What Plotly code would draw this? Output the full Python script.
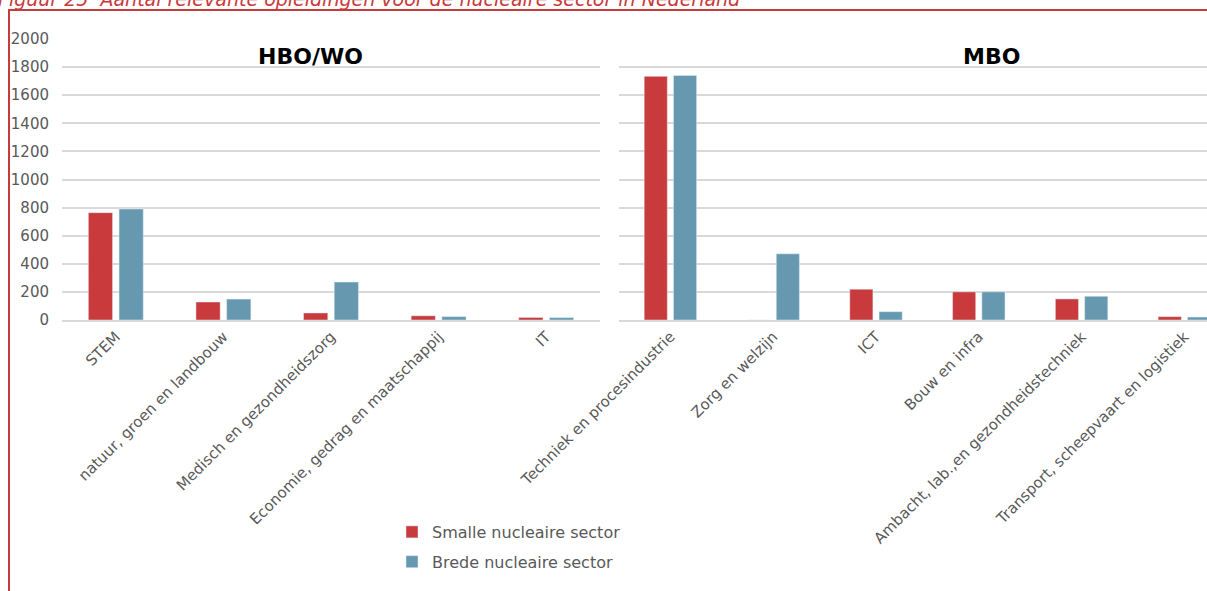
import plotly.graph_objects as go
from plotly.subplots import make_subplots

# Data
hbo_categories = ["STEM", "natuur, groen en landbouw", "Medisch en gezondheidszorg",
                  "Economie, gedrag en maatschappij", "IT"]
hbo_smalle = [764, 128, 50, 30, 18]
hbo_brede = [790, 149, 270, 24, 17]

mbo_categories = ["Techniek en procesindustrie", "Zorg en welzijn", "ICT", "Bouw en infra",
                  "Ambacht, lab.,en gezondheidstechniek", "Transport, scheepvaart en logistiek"]
mbo_smalle = [1734, 0, 219, 200, 150, 24]
mbo_brede = [1741, 471, 59, 200, 169, 21]

series_names = ["Smalle nucleaire sector", "Brede nucleaire sector"]
y_ticks = [0, 200, 400, 600, 800, 1000, 1200, 1400, 1600, 1800, 2000]

RED = "#c83a3b"
BLUE = "#6699b0"
GRID = "#d9d9d9"
TXT = "#595959"
FONT = "DejaVu Sans"

W, H = 1207, 591
ML, MR, MT, MB = 62, 0, 39, 271
PW = W - ML - MR
PH = H - MT - MB

def px_x(x):
    return (x - ML) / PW

def px_y(y):
    return (H - MB - y) / PH

fig = make_subplots(rows=1, cols=2, shared_yaxes=True)

fig.add_trace(go.Bar(x=hbo_categories, y=hbo_smalle, name=series_names[0], marker_color=RED,
                     legendgroup="a", showlegend=True), row=1, col=1)
fig.add_trace(go.Bar(x=hbo_categories, y=hbo_brede, name=series_names[1], marker_color=BLUE,
                     legendgroup="b", showlegend=True), row=1, col=1)
fig.add_trace(go.Bar(x=mbo_categories, y=mbo_smalle, name=series_names[0], marker_color=RED,
                     legendgroup="a", showlegend=False), row=1, col=2)
fig.add_trace(go.Bar(x=mbo_categories, y=mbo_brede, name=series_names[1], marker_color=BLUE,
                     legendgroup="b", showlegend=False), row=1, col=2)

fig.update_layout(
    width=W, height=H,
    margin=dict(l=ML, r=MR, t=MT, b=MB, autoexpand=False),
    paper_bgcolor="white", plot_bgcolor="white",
    font=dict(family=FONT, color=TXT, size=14),
    barmode="group", bargap=0.43, bargroupgap=0.21,
    legend=dict(x=px_x(392), y=px_y(515), xanchor="left", yanchor="top",
                orientation="v", traceorder="grouped", tracegroupgap=6,
                font=dict(family=FONT, size=16, color=TXT), bgcolor="rgba(0,0,0,0)"),
    xaxis=dict(domain=[0, px_x(600)], tickangle=-45, showline=True, linecolor=GRID,
               linewidth=2, ticks="", showgrid=False, automargin=False,
               tickfont=dict(family=FONT, size=15, color=TXT)),
    xaxis2=dict(domain=[px_x(619), 1], tickangle=-45, showline=True, linecolor=GRID,
                linewidth=2, ticks="", showgrid=False, range=[-0.5, 5.22], automargin=False,
                tickfont=dict(family=FONT, size=15, color=TXT)),
    yaxis=dict(range=[0, 2000], tickvals=y_ticks, showgrid=True, gridcolor=GRID,
               gridwidth=1.5, zeroline=False, ticks="", ticklabelstandoff=12, automargin=False,
               tickfont=dict(family=FONT, size=15, color=TXT)),
    yaxis2=dict(range=[0, 2000], tickvals=y_ticks, showgrid=True, gridcolor=GRID,
                gridwidth=1.5, zeroline=False, showticklabels=False, ticks="", automargin=False),
)

# Panel titles
fig.add_annotation(text="<b>HBO/WO</b>", xref="paper", yref="paper", x=px_x(310), y=px_y(56),
                   xanchor="center", yanchor="middle",
                   showarrow=False, font=dict(family=FONT, size=22, color="black"))
fig.add_annotation(text="<b>MBO</b>", xref="paper", yref="paper", x=px_x(991), y=px_y(56),
                   xanchor="center", yanchor="middle",
                   showarrow=False, font=dict(family=FONT, size=22, color="black"))

# Figure caption (partially cut off at top, as in the source)
fig.add_annotation(text="<i>Figuur 25  Aantal relevante opleidingen voor de nucleaire sector in Nederland</i>",
                   xref="paper", yref="paper", x=px_x(-4), y=px_y(12), xanchor="left",
                   yanchor="bottom", showarrow=False,
                   font=dict(family=FONT, size=19, color=RED))

# Red frame
fig.add_shape(type="line", xref="paper", yref="paper", x0=px_x(9), x1=px_x(9),
              y0=px_y(10), y1=px_y(600), line=dict(color=RED, width=2))
fig.add_shape(type="line", xref="paper", yref="paper", x0=px_x(8), x1=px_x(1220),
              y0=px_y(10), y1=px_y(10), line=dict(color=RED, width=2))

fig.write_html("out.html", config={"responsive": False, "displayModeBar": False},
               post_script="document.body.style.margin='0';document.body.style.overflow='hidden';")
